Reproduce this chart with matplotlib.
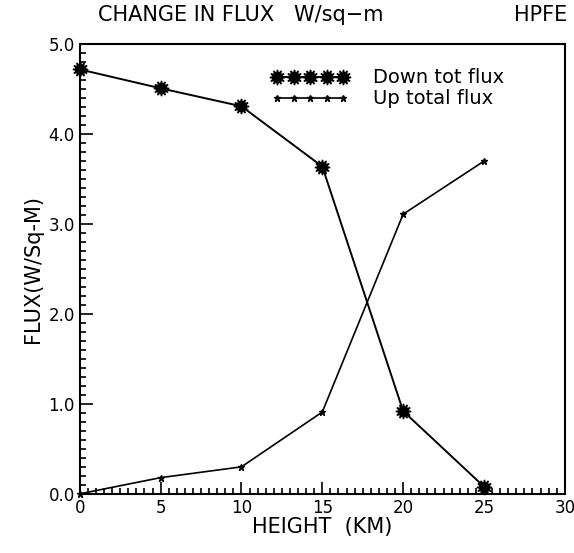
import matplotlib.pyplot as plt
from matplotlib.ticker import MultipleLocator
from matplotlib.legend_handler import HandlerTuple

heights = [0, 5, 10, 15, 20, 25]
down_flux = [4.72, 4.51, 4.31, 3.64, 0.92, 0.08]
up_flux = [0.0, 0.18, 0.30, 0.91, 3.11, 3.70]

fig = plt.figure(figsize=(5.74, 5.53), dpi=100)
ax = fig.add_axes([0.139, 0.107, 0.845, 0.813])

# spiky star with a solid core for the downward flux
down_line, = ax.plot(heights, down_flux, color='black', lw=1.4, marker=(12, 1, 0),
                     markersize=11, markeredgewidth=1.0, markerfacecolor='black',
                     clip_on=False, zorder=3)
down_core, = ax.plot(heights, down_flux, color='black', lw=0, marker='o',
                     markersize=6.5, clip_on=False, zorder=4)
up_line, = ax.plot(heights, up_flux, color='black', lw=1.2, marker='*',
                   markersize=5, clip_on=False, zorder=3)

ax.set_xlim(0, 30)
ax.set_ylim(0, 5)
ax.xaxis.set_major_locator(MultipleLocator(5))
ax.xaxis.set_minor_locator(MultipleLocator(0.5))
ax.yaxis.set_major_locator(MultipleLocator(1))
ax.yaxis.set_minor_locator(MultipleLocator(0.1))
ax.set_yticklabels(['%.1f' % v for v in ax.get_yticks()])
ax.tick_params(which='both', direction='in', width=1.2)
ax.tick_params(which='major', length=9, labelsize=12)
ax.tick_params(which='minor', length=4)
for s in ax.spines.values():
    s.set_linewidth(1.5)

ax.set_xlabel('HEIGHT  (KM)', fontsize=15, labelpad=0)
ax.set_ylabel('FLUX(W/Sq-M)', fontsize=15, labelpad=4)

leg = ax.legend([(down_line, down_core), up_line], ['Down tot flux', 'Up total flux'],
                handler_map={tuple: HandlerTuple(ndivide=1, pad=0)},
                loc='upper right', bbox_to_anchor=(0.91, 0.985), frameon=False,
                numpoints=5, handlelength=4, fontsize=14, labelspacing=0.1,
                handletextpad=1.2)

fig.text(0.17, 0.972, 'CHANGE IN FLUX   W/sq\u2212m', fontsize=15, va='center')
fig.text(0.895, 0.972, 'HPFE', fontsize=15, va='center')

fig.savefig('out.png')
